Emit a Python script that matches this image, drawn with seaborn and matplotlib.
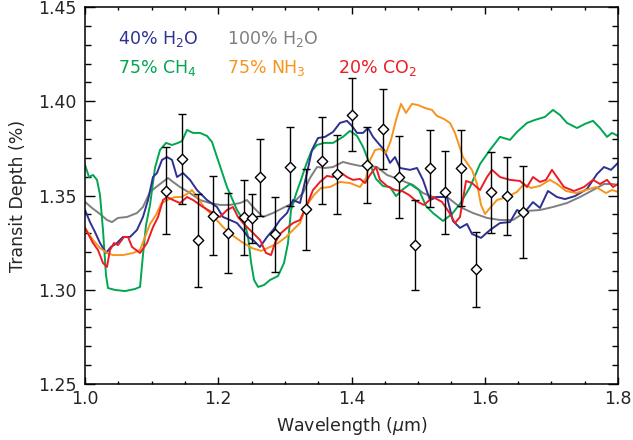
import numpy as np
import pandas as pd
import matplotlib
matplotlib.use("Agg")
import matplotlib.pyplot as plt
import seaborn as sns
from matplotlib.ticker import MultipleLocator

# ---------------- data ----------------
obs_wl = [1.122, 1.146, 1.170, 1.192, 1.215, 1.238, 1.251, 1.262, 1.285, 1.308,
          1.331, 1.355, 1.378, 1.401, 1.424, 1.448, 1.471, 1.496, 1.518, 1.540,
          1.564, 1.587, 1.610, 1.633, 1.657]
obs_depth = [1.3525, 1.3695, 1.3262, 1.3393, 1.3301, 1.3384, 1.3379, 1.3597, 1.3294, 1.3653,
             1.3427, 1.3685, 1.3612, 1.3929, 1.3662, 1.3853, 1.3597, 1.3237, 1.3644, 1.3517,
             1.3644, 1.3108, 1.3517, 1.3499, 1.3414]
obs_err = [0.0231, 0.0240, 0.0245, 0.0208, 0.0211, 0.0197, 0.0130, 0.0204, 0.0200, 0.0208,
           0.0214, 0.0229, 0.0210, 0.0195, 0.0203, 0.0210, 0.0218, 0.0239, 0.0205, 0.0220,
           0.0202, 0.0201, 0.0215, 0.0207, 0.0245]

h2o40_wl = [1.000, 1.0075, 1.015, 1.0225, 1.0315, 1.039, 1.048, 1.057, 1.0675, 1.078,
            1.087, 1.0946, 1.102, 1.108, 1.1156, 1.1231, 1.1306, 1.1381, 1.1471, 1.1576,
            1.1681, 1.1831, 1.1981, 1.2071, 1.2176, 1.2281, 1.2371, 1.2446, 1.2522, 1.2627,
            1.2732, 1.2822, 1.2927, 1.3032, 1.3122, 1.3227, 1.3332, 1.3407, 1.3497, 1.3602,
            1.3722, 1.3827, 1.3932, 1.4007, 1.4083, 1.4173, 1.4248, 1.4323, 1.4398, 1.4488,
            1.4578, 1.4653, 1.4728, 1.4878, 1.4983, 1.5073, 1.5178, 1.5283, 1.5433, 1.5523,
            1.5628, 1.5733, 1.5809, 1.5944, 1.6079, 1.6229, 1.6379, 1.6484, 1.6589, 1.6724,
            1.6829, 1.6949, 1.7084, 1.7204, 1.7355, 1.7535, 1.7685, 1.7790, 1.7895, 1.8000]
h2o40_depth = [1.3423, 1.3359, 1.3306, 1.3248, 1.3195, 1.3227, 1.3248, 1.3280, 1.3280, 1.3317,
               1.3386, 1.3476, 1.3598, 1.3619, 1.3689, 1.3704, 1.3689, 1.3598, 1.3619, 1.3583,
               1.3529, 1.3476, 1.3439, 1.3386, 1.3370, 1.3354, 1.3317, 1.3280, 1.3264, 1.3227,
               1.3280, 1.3317, 1.3370, 1.3407, 1.3476, 1.3460, 1.3619, 1.3742, 1.3805, 1.3811,
               1.3837, 1.3885, 1.3896, 1.3869, 1.3832, 1.3832, 1.3858, 1.3811, 1.3779, 1.3742,
               1.3673, 1.3704, 1.3646, 1.3636, 1.3646, 1.3583, 1.3476, 1.3492, 1.3492, 1.3365,
               1.3328, 1.3349, 1.3296, 1.3275, 1.3317, 1.3354, 1.3359, 1.3423, 1.3407, 1.3465,
               1.3434, 1.3524, 1.3492, 1.3481, 1.3497, 1.3535, 1.3614, 1.3651, 1.3636, 1.3673]

h2o100_wl = [1.000, 1.0105, 1.0225, 1.033, 1.0405, 1.0495, 1.063, 1.078, 1.087, 1.0976,
             1.1126, 1.1246, 1.1321, 1.1426, 1.1576, 1.1726, 1.1876, 1.2026, 1.2176, 1.2326,
             1.2432, 1.2522, 1.2672, 1.2822, 1.2972, 1.3122, 1.3272, 1.3377, 1.3482, 1.3602,
             1.3722, 1.3872, 1.3992, 1.4128, 1.4248, 1.4383, 1.4533, 1.4728, 1.4923, 1.5073,
             1.5223, 1.5433, 1.5628, 1.5824, 1.6034, 1.6229, 1.6424, 1.6634, 1.6829, 1.7024,
             1.7234, 1.7430, 1.7625, 1.7790, 1.7910, 1.8000]
h2o100_depth = [1.3466, 1.3434, 1.3402, 1.3370, 1.3359, 1.3381, 1.3386, 1.3407, 1.3439, 1.3519,
                1.3561, 1.3593, 1.3572, 1.3545, 1.3513, 1.3476, 1.3460, 1.3450, 1.3450, 1.3460,
                1.3476, 1.3439, 1.3386, 1.3407, 1.3434, 1.3460, 1.3513, 1.3593, 1.3651, 1.3646,
                1.3651, 1.3678, 1.3667, 1.3657, 1.3657, 1.3651, 1.3609, 1.3583, 1.3556, 1.3513,
                1.3492, 1.3492, 1.3439, 1.3407, 1.3381, 1.3370, 1.3370, 1.3418, 1.3423, 1.3439,
                1.3460, 1.3492, 1.3529, 1.3561, 1.3561, 1.3556]

ch4_wl = [1.000, 1.006, 1.012, 1.018, 1.0225, 1.027, 1.0315, 1.0345, 1.045, 1.060,
          1.075, 1.0826, 1.087, 1.0916, 1.0976, 1.105, 1.1126, 1.1216, 1.1306, 1.1396,
          1.1456, 1.1531, 1.1621, 1.1726, 1.1831, 1.1906, 1.1981, 1.2056, 1.2131, 1.2191,
          1.2281, 1.2386, 1.2446, 1.2492, 1.2537, 1.2597, 1.2687, 1.2777, 1.2897, 1.2987,
          1.3047, 1.3092, 1.3167, 1.3242, 1.3317, 1.3392, 1.3482, 1.3587, 1.3722, 1.3872,
          1.3977, 1.4083, 1.4173, 1.4263, 1.4368, 1.4473, 1.4578, 1.4668, 1.4758, 1.4878,
          1.5013, 1.5118, 1.5223, 1.5373, 1.5508, 1.5628, 1.5779, 1.5929, 1.6079, 1.6229,
          1.6379, 1.6484, 1.6634, 1.6754, 1.6904, 1.7024, 1.7129, 1.7234, 1.7385, 1.7505,
          1.7625, 1.7730, 1.7835, 1.7910, 1.8000]
ch4_depth = [1.3662, 1.3598, 1.3609, 1.3583, 1.3503, 1.3317, 1.3078, 1.3009, 1.2999, 1.2993,
             1.3004, 1.3015, 1.3184, 1.3343, 1.3450, 1.3646, 1.3742, 1.3779, 1.3768, 1.3779,
             1.3789, 1.3848, 1.3832, 1.3832, 1.3816, 1.3784, 1.3704, 1.3625, 1.3545, 1.3497,
             1.3423, 1.3365, 1.3285, 1.3147, 1.3052, 1.3015, 1.3025, 1.3052, 1.3073, 1.3142,
             1.3248, 1.3423, 1.3508, 1.3583, 1.3662, 1.3731, 1.3768, 1.3779, 1.3779, 1.3811,
             1.3843, 1.3816, 1.3758, 1.3678, 1.3588, 1.3550, 1.3545, 1.3497, 1.3529, 1.3561,
             1.3529, 1.3444, 1.3407, 1.3365, 1.3402, 1.3455, 1.3545, 1.3667, 1.3742, 1.3811,
             1.3795, 1.3837, 1.3885, 1.3901, 1.3917, 1.3954, 1.3927, 1.3885, 1.3858, 1.3880,
             1.3896, 1.3858, 1.3811, 1.3832, 1.3816]

nh3_wl = [1.000, 1.012, 1.0225, 1.033, 1.042, 1.057, 1.072, 1.0826, 1.090, 1.0976,
          1.1066, 1.1141, 1.1231, 1.1351, 1.1441, 1.1531, 1.1606, 1.1681, 1.1786, 1.1936,
          1.2071, 1.2206, 1.2356, 1.2507, 1.2642, 1.2777, 1.2897, 1.3017, 1.3122, 1.3227,
          1.3332, 1.3437, 1.3542, 1.3677, 1.3827, 1.3977, 1.4128, 1.4218, 1.4278, 1.4353,
          1.4428, 1.4518, 1.4593, 1.4668, 1.4743, 1.4818, 1.4908, 1.4998, 1.5103, 1.5208,
          1.5283, 1.5388, 1.5478, 1.5553, 1.5613, 1.5673, 1.5734, 1.5809, 1.5884, 1.5944,
          1.6004, 1.6079, 1.6184, 1.6334, 1.6484, 1.6589, 1.6694, 1.6829, 1.6979, 1.7084,
          1.7219, 1.7370, 1.7520, 1.7670, 1.7820, 1.7910, 1.8000]
nh3_depth = [1.3328, 1.3264, 1.3221, 1.3195, 1.3184, 1.3184, 1.3195, 1.3211, 1.3280, 1.3349,
             1.3397, 1.3455, 1.3476, 1.3492, 1.3492, 1.3508, 1.3529, 1.3492, 1.3439, 1.3386,
             1.3333, 1.3290, 1.3253, 1.3221, 1.3206, 1.3227, 1.3248, 1.3280, 1.3317, 1.3354,
             1.3450, 1.3503, 1.3540, 1.3545, 1.3572, 1.3566, 1.3545, 1.3593, 1.3688, 1.3741,
             1.3747, 1.3726, 1.3795, 1.3901, 1.3986, 1.3938, 1.3986, 1.3980, 1.3964, 1.3954,
             1.3922, 1.3906, 1.3885, 1.3832, 1.3768, 1.3704, 1.3672, 1.3635, 1.3561, 1.3450,
             1.3402, 1.3434, 1.3476, 1.3492, 1.3519, 1.3561, 1.3540, 1.3551, 1.3583, 1.3561,
             1.3524, 1.3513, 1.3529, 1.3545, 1.3513, 1.3529, 1.3519]

co2_wl = [1.000, 1.012, 1.0195, 1.027, 1.033, 1.0375, 1.0435, 1.0495, 1.0585, 1.0645,
          1.0706, 1.0826, 1.0931, 1.1021, 1.1096, 1.1171, 1.1231, 1.1321, 1.1426, 1.1531,
          1.1621, 1.1771, 1.1921, 1.2026, 1.2131, 1.2221, 1.2296, 1.2371, 1.2477, 1.2627,
          1.2717, 1.2792, 1.2852, 1.2927, 1.3032, 1.3122, 1.3227, 1.3332, 1.3422, 1.3527,
          1.3632, 1.3722, 1.3827, 1.3932, 1.4022, 1.4128, 1.4203, 1.4278, 1.4368, 1.4428,
          1.4533, 1.4653, 1.4758, 1.4863, 1.4968, 1.5088, 1.5223, 1.5358, 1.5463, 1.5553,
          1.5628, 1.5719, 1.5809, 1.5929, 1.6034, 1.6109, 1.6229, 1.6379, 1.6529, 1.6634,
          1.6724, 1.6829, 1.6919, 1.7009, 1.7084, 1.7189, 1.7340, 1.7490, 1.7625, 1.7730,
          1.7835, 1.7925, 1.8000]
co2_depth = [1.3328, 1.3248, 1.3211, 1.3142, 1.3121, 1.3211, 1.3248, 1.3237, 1.3280, 1.3280,
             1.3227, 1.3195, 1.3248, 1.3333, 1.3386, 1.3476, 1.3492, 1.3476, 1.3460, 1.3492,
             1.3476, 1.3439, 1.3407, 1.3386, 1.3423, 1.3439, 1.3386, 1.3354, 1.3317, 1.3264,
             1.3195, 1.3184, 1.3248, 1.3296, 1.3328, 1.3354, 1.3370, 1.3450, 1.3529, 1.3572,
             1.3604, 1.3598, 1.3625, 1.3598, 1.3583, 1.3588, 1.3566, 1.3609, 1.3651, 1.3583,
             1.3550, 1.3529, 1.3524, 1.3503, 1.3471, 1.3450, 1.3492, 1.3466, 1.3412, 1.3354,
             1.3386, 1.3577, 1.3566, 1.3529, 1.3598, 1.3636, 1.3598, 1.3583, 1.3577, 1.3545,
             1.3598, 1.3572, 1.3583, 1.3636, 1.3598, 1.3545, 1.3524, 1.3545, 1.3583, 1.3561,
             1.3583, 1.3545, 1.3561]

model_names = ["100% H2O", "75% CH4", "40% H2O", "75% NH3", "20% CO2"]
model_labels = [r"40% H$_2$O", r"100% H$_2$O", r"75% CH$_4$", r"75% NH$_3$", r"20% CO$_2$"]
colors = {"40% H2O": "#2E3192", "100% H2O": "#7F7F7F", "75% CH4": "#00A651",
          "75% NH3": "#F7941D", "20% CO2": "#ED1C24"}

frames = []
for name, wl, d in [("100% H2O", h2o100_wl, h2o100_depth), ("75% CH4", ch4_wl, ch4_depth),
                    ("40% H2O", h2o40_wl, h2o40_depth), ("75% NH3", nh3_wl, nh3_depth),
                    ("20% CO2", co2_wl, co2_depth)]:
    frames.append(pd.DataFrame({"wl": wl, "depth": d, "model": name}))
models = pd.concat(frames, ignore_index=True)
obs = pd.DataFrame({"wl": obs_wl, "depth": obs_depth, "err": obs_err})

# ---------------- plot ----------------
sns.set_style("ticks")
plt.rcParams["font.family"] = ["DejaVu Sans"]
plt.rcParams["mathtext.fontset"] = "dejavusans"

fig = plt.figure(figsize=(6.33, 4.40), dpi=100)
ax = fig.add_axes([85 / 633, 56 / 440, 533 / 633, 377 / 440])

sns.lineplot(data=models, x="wl", y="depth", hue="model", hue_order=model_names,
             palette=colors, estimator=None, sort=False, legend=False,
             linewidth=1.4, ax=ax)

ax.errorbar(obs["wl"], obs["depth"], yerr=obs["err"], fmt="none", ecolor="black",
            elinewidth=1.0, capsize=2.8, capthick=1.0, zorder=5)
sns.scatterplot(data=obs, x="wl", y="depth", marker="D", s=28, facecolor="white",
                edgecolor="black", linewidth=1.0, zorder=6, ax=ax)

ax.set_xlim(1.0, 1.8)
ax.set_ylim(1.25, 1.45)
ax.xaxis.set_major_locator(MultipleLocator(0.2))
ax.xaxis.set_minor_locator(MultipleLocator(0.05))
ax.yaxis.set_major_locator(MultipleLocator(0.05))
ax.yaxis.set_minor_locator(MultipleLocator(0.01))
ax.xaxis.set_major_formatter(matplotlib.ticker.FormatStrFormatter("%.1f"))
ax.yaxis.set_major_formatter(matplotlib.ticker.FormatStrFormatter("%.2f"))
ax.tick_params(which="both", direction="in", top=True, right=True, color="black",
               labelsize=12.5, width=1.0)
ax.tick_params(axis="x", which="major", length=5, pad=4)
ax.tick_params(axis="x", which="minor", length=2.5)
ax.tick_params(axis="y", which="major", length=7, pad=6)
ax.tick_params(axis="y", which="minor", length=4)
for sp in ax.spines.values():
    sp.set_visible(True)
    sp.set_linewidth(1.1)
    sp.set_color("black")

ax.set_xlabel(r"Wavelength ($\mu$m)", fontsize=12.5, labelpad=5)
ax.set_ylabel("Transit Depth (%)", fontsize=12.5, labelpad=8)

legend_pos = [(0.062, 0.914), (0.266, 0.914), (0.062, 0.837), (0.266, 0.837), (0.475, 0.837)]
legend_keys = ["40% H2O", "100% H2O", "75% CH4", "75% NH3", "20% CO2"]
for (x, y), key, lab in zip(legend_pos, legend_keys, model_labels):
    ax.text(x, y, lab, transform=ax.transAxes, color=colors[key], fontsize=12.5,
            ha="left", va="center")

fig.savefig("out.png", dpi=100)
